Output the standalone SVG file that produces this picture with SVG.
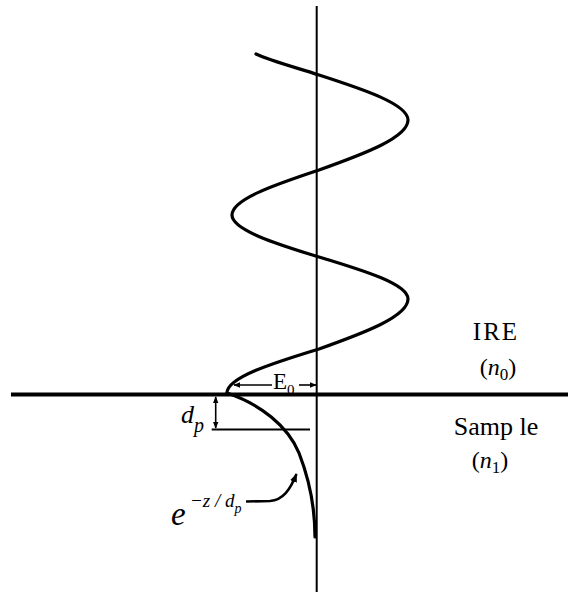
<svg xmlns="http://www.w3.org/2000/svg" width="568" height="592" viewBox="0 0 568 592">
<style>
.ax{stroke:#000;fill:none}
.curve{stroke:#000;stroke-width:3.2;fill:none;stroke-linecap:round;stroke-linejoin:round}
.thin{stroke:#000;stroke-width:1.6;fill:none}
text{font-family:"Liberation Serif","Times New Roman",serif;fill:#000}
.it{font-style:italic}
</style>
<defs>
<marker id="ah" viewBox="0 0 10 10" refX="9" refY="5" markerWidth="7" markerHeight="7" orient="auto-start-reverse" markerUnits="userSpaceOnUse">
<path d="M0,1 L10,5 L0,9 z" fill="#000"/>
</marker>
<marker id="ah2" viewBox="0 0 10 10" refX="9" refY="5" markerWidth="9" markerHeight="9" orient="auto" markerUnits="userSpaceOnUse">
<path d="M0,1 L10,5 L0,9 z" fill="#000"/>
</marker>
</defs>
<rect width="568" height="592" fill="#fff"/>
<g id="axes">
<line class="ax" x1="316.7" y1="6" x2="316.7" y2="592" stroke-width="2"/>
<line class="ax" x1="11" y1="394.5" x2="568" y2="394.5" stroke-width="3.8"/>
</g>
<g id="wave">
<path class="curve" d="M256,54 C271,61 297.7,68 319,75 C364.4,89.6 408,104.3 408,120 C408,137.5 364.4,153.8 319,170 C275,184.6 232,199.3 232,215 C232,229.7 274.6,243.4 319,257 C364.4,270.6 408,284.3 408,299 C408,316.5 364.4,332.8 319,349 C272,363.3 227,377.6 227,393"/>
</g>
<g id="decay">
<path class="curve" d="M227,393 C260,404 288,426 299,453 C306,471 315,500 315,537"/>
</g>
<g id="connectors">
<line class="thin" x1="272" y1="385" x2="234" y2="385" marker-end="url(#ah)"/>
<line class="thin" x1="299" y1="385" x2="316" y2="385" marker-end="url(#ah)"/>
<line class="thin" x1="215.7" y1="397" x2="215.7" y2="428" marker-start="url(#ah)" marker-end="url(#ah)"/>
<line class="ax" x1="211.7" y1="429.5" x2="310" y2="429.5" stroke-width="2"/>
<path class="ax" stroke-width="2.6" d="M246,501.5 L270,501 C283,500 290,490 296.5,474" marker-end="url(#ah2)"/>
</g>
<g id="labels">
<text x="273" y="388.5" font-size="23">E<tspan font-size="15" dy="6">0</tspan></text>
<text class="it" x="181" y="423" font-size="26">d<tspan font-size="20" dy="9">p</tspan></text>
<text class="it" x="171" y="525" font-size="33">e</text>
<text class="it" x="190" y="506.5" font-size="19">−z / d<tspan font-size="14" dy="6">p</tspan></text>
<text x="496" y="340" font-size="25" text-anchor="middle" letter-spacing="2">IRE</text>
<text x="498" y="375" font-size="24" text-anchor="middle">(<tspan class="it">n</tspan><tspan font-size="17" dy="5">0</tspan><tspan dy="-5">)</tspan></text>
<text x="496" y="435" font-size="26" text-anchor="middle">Samp le</text>
<text x="490" y="468" font-size="24" text-anchor="middle">(<tspan class="it">n</tspan><tspan font-size="17" dy="5">1</tspan><tspan dy="-5">)</tspan></text>
</g>
</svg>
